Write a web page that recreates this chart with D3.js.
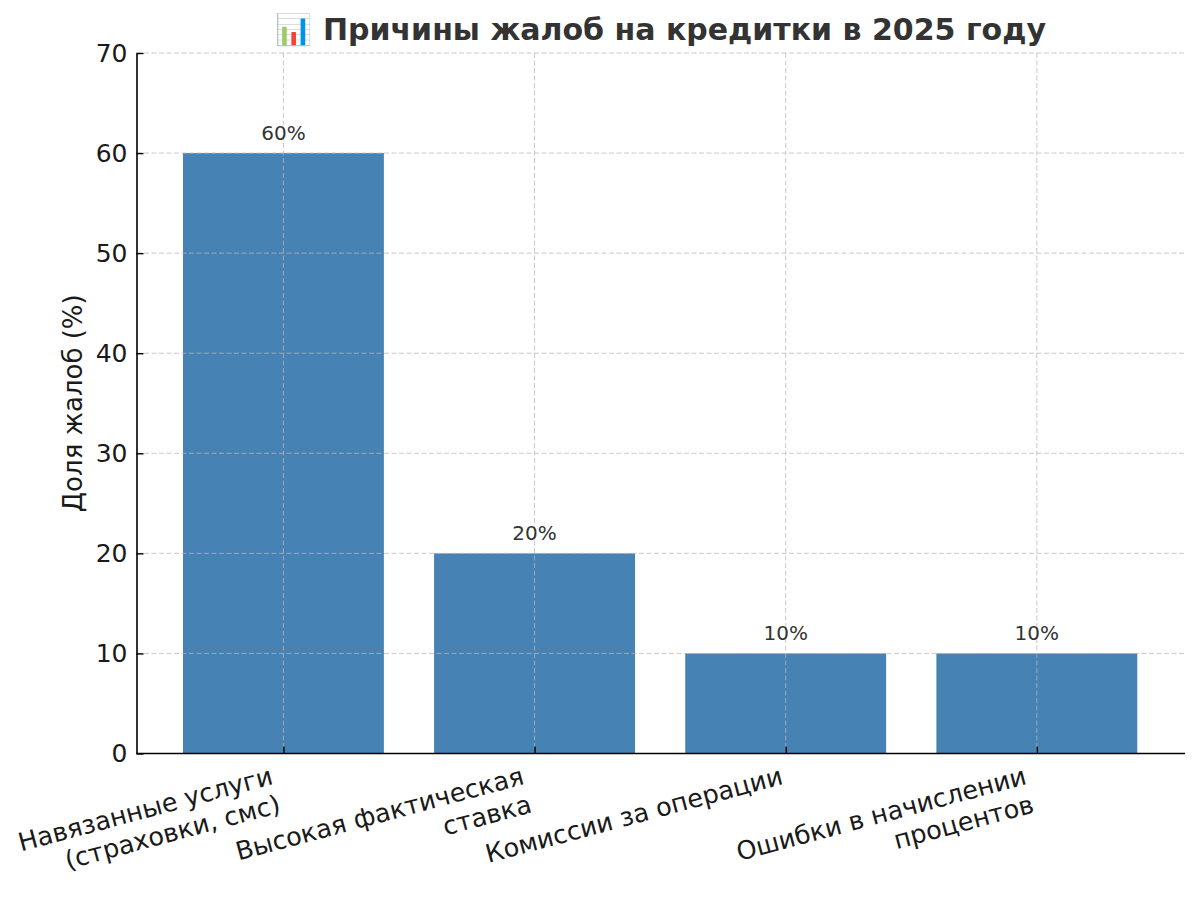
<!DOCTYPE html>
<html>
<head>
<meta charset="utf-8">
<script src="https://cdn.jsdelivr.net/npm/d3@7"></script>
<style>
  html, body { margin: 0; padding: 0; background: #fff; }
  svg { display: block; font-family: "DejaVu Sans", sans-serif; }
</style>
</head>
<body>
<svg id="chart" width="1200" height="907"></svg>
<script>
// ---- data ----
const categories = [
  ["Навязанные услуги", "(страховки, смс)"],
  ["Высокая фактическая", "ставка"],
  ["Комиссии за операции"],
  ["Ошибки в начислении", "процентов"]
];
const values = [60, 20, 10, 10];
const yTicks = [0, 10, 20, 30, 40, 50, 60, 70];
const titleText = "\u{1F4CA} Причины жалоб на кредитки в 2025 году";
const yLabel = "Доля жалоб (%)";

// ---- layout ----
const m = { left: 136.5, right: 1185, top: 53, bottom: 753.5 };
const svg = d3.select("#chart");

const x = d3.scaleLinear().domain([-0.585, categories.length - 0.41]).range([m.left, m.right]);
const y = d3.scaleLinear().domain([0, 70]).range([m.bottom, m.top]);
const barW = 0.8;

// bars
svg.append("g").selectAll("rect").data(values).join("rect")
  .attr("x", (d, i) => x(i - barW / 2))
  .attr("width", (d, i) => x(i + barW / 2) - x(i - barW / 2))
  .attr("y", d => y(d))
  .attr("height", d => y(0) - y(d))
  .attr("fill", "#4682B4");

// grid (above bars)
const grid = svg.append("g")
  .attr("stroke", "#b8b8b8").attr("stroke-opacity", 0.75)
  .attr("stroke-width", 1).attr("stroke-dasharray", "5,2.5");
grid.selectAll("line.h").data(yTicks.filter(t => t > 0)).join("line")
  .attr("x1", m.left).attr("x2", m.right)
  .attr("y1", d => y(d)).attr("y2", d => y(d));
grid.selectAll("line.v").data(values).join("line")
  .attr("x1", (d, i) => x(i)).attr("x2", (d, i) => x(i))
  .attr("y1", m.top).attr("y2", m.bottom);

// y axis
const yAxis = d3.axisLeft(y).tickValues(yTicks).tickSizeInner(-7).tickSizeOuter(0).tickPadding(9);
const gy = svg.append("g").attr("transform", `translate(${m.left},0)`).call(yAxis);
gy.select(".domain").attr("stroke", "#000").attr("stroke-width", 1.6);
gy.selectAll(".tick line").attr("stroke", "#000").attr("stroke-width", 1.4);
gy.selectAll(".tick text").attr("font-size", 25).attr("fill", "#1a1a1a")
  .attr("font-family", "DejaVu Sans");

// x axis (spine + ticks)
const xAxis = d3.axisBottom(x).tickValues(d3.range(categories.length))
  .tickSizeInner(-7).tickSizeOuter(0).tickFormat("");
const gx = svg.append("g").attr("transform", `translate(0,${m.bottom})`).call(xAxis);
gx.select(".domain").attr("stroke", "#000").attr("stroke-width", 1.6)
  .attr("d", `M${m.left},0H${m.right}`);
gx.selectAll(".tick line").attr("stroke", "#000").attr("stroke-width", 1.4);

// x labels rotated 15°, right aligned like matplotlib ha='right'
const fsX = 25.5, ang = 15 * Math.PI / 180, pad = 7;
categories.forEach((lines, i) => {
  const outer = svg.append("g");
  const inner = outer.append("g");
  const t = inner.append("text").attr("font-size", fsX).attr("fill", "#1a1a1a")
    .attr("text-anchor", "end");
  lines.forEach((ln, k) => {
    t.append("tspan").attr("x", 0).attr("y", k * fsX * 1.15).text(ln);
  });
  const b = inner.node().getBBox();
  const corners = [[b.x, b.y], [b.x + b.width, b.y], [b.x, b.y + b.height], [b.x + b.width, b.y + b.height]]
    .map(([px, py]) => [px * Math.cos(ang) + py * Math.sin(ang), -px * Math.sin(ang) + py * Math.cos(ang)]);
  const maxX = d3.max(corners, c => c[0]);
  const minY = d3.min(corners, c => c[1]);
  outer.attr("transform", `translate(${x(i) - maxX},${m.bottom + pad - minY}) rotate(-15)`);
});

// value labels
svg.append("g").selectAll("text").data(values).join("text")
  .attr("x", (d, i) => x(i)).attr("y", d => y(d) - 13)
  .attr("text-anchor", "middle").attr("font-size", 20).attr("fill", "#333")
  .text(d => d + "%");

// y label
svg.append("text")
  .attr("transform", `translate(82,${(m.top + m.bottom) / 2}) rotate(-90)`)
  .attr("text-anchor", "middle").attr("font-size", 26).attr("fill", "#1a1a1a")
  .text(yLabel);

// title
svg.append("text")
  .attr("x", (m.left + m.right) / 2).attr("y", 40)
  .attr("text-anchor", "middle").attr("font-size", 30).attr("font-weight", "bold")
  .attr("fill", "#333").text(titleText);
</script>
</body>
</html>
